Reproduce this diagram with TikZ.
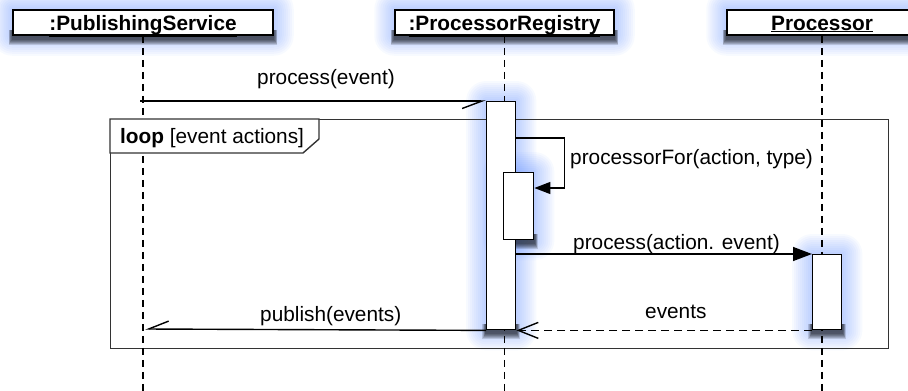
\documentclass[tikz,border=0pt]{standalone}
\usepackage{fontspec}
\setmainfont{Liberation Sans}
\usetikzlibrary{arrows.meta,backgrounds}
\definecolor{glowblue}{RGB}{80,130,255}

% soft blue halo plus a dark drop shadow under a box node
\newcommand\glowof[1]{%
  \begin{scope}[on background layer]
    \foreach \d in {2,4,...,20}{%
      \fill[glowblue, opacity=0.045, rounded corners={\d*1pt}]
        ([xshift={-\d*1pt}, yshift={-\d*1pt}]#1.south west) rectangle
        ([xshift={\d*1pt}, yshift={\d*1pt}]#1.north east);}
    \foreach \d in {1,...,6}{%
      \fill[black, opacity=0.14]
        ([xshift={-0.6*\d*1pt}, yshift={-3pt-\d*1pt}]#1.south west) rectangle
        ([xshift={0.6*\d*1pt}, yshift=6pt]#1.south east);}
  \end{scope}}

\begin{document}
\begin{tikzpicture}[x=1pt,y=-1pt,
  every node/.style={font=\fontsize{20.8}{24}\selectfont, inner sep=0pt},
  hdr/.style={draw=black, line width=1.5pt, fill=white, minimum height=25pt,
    text height=17pt, text depth=2pt, inner ysep=3pt,
    font=\fontsize{20.8}{24}\selectfont\bfseries},
  actbox/.style={draw=black, line width=1.4pt, fill=white, minimum width=29pt,
    anchor=north west},
  life/.style={line width=1.4pt, dash pattern=on 7pt off 5pt},
  msg/.style={line width=1.4pt},
  reply/.style={line width=1.4pt, dash pattern=on 8pt off 5pt},
  lbl/.style={anchor=base west},
]
\useasboundingbox (0,0) rectangle (908,391);

% combined fragment frame
\node[draw=black!80, line width=1.4pt, minimum width=778pt, minimum height=229pt,
      anchor=north west] (frm) at (110,119) {};

% object headers
\node[hdr, minimum width=260pt] (ps) at (143,22.5) {\underline{:PublishingService}};
\node[hdr, minimum width=219pt] (pr) at (504.5,22.5) {\underline{:ProcessorRegistry}};
\node[hdr, minimum width=190pt] (pc) at (822,22.5) {\underline{Processor}};

% lifelines
\coordinate (psEnd) at (143,391);
\coordinate (prEnd) at (504.5,391);
\coordinate (pcEnd) at (822,391);
\draw[life] (ps.south) -- (psEnd);
\draw[life] (pr.south) -- (prEnd);
\draw[life] (pc.south) -- (pcEnd);

% loop tab
\draw[fill=white, draw=black!80, line width=1.4pt] (frm.north west) -- ++(209,0) -- ++(0,20)
  -- ++(-16,14) -- ++(-193,0) -- cycle;
\node[lbl] (looplbl) at (120,143) {\textbf{loop} [event actions]};

% activations
\node[actbox, minimum height=228pt] (a1) at (486,101) {};
\node[actbox, minimum height=67pt, minimum width=30pt] (a2) at (503,172) {};
\node[actbox, minimum height=75pt] (a3) at (812,254) {};

\glowof{ps}\glowof{pr}\glowof{pc}
\glowof{a1}\glowof{a2}\glowof{a3}

% messages
\coordinate (m1s) at (140,101);
\draw[msg, -{Straight Barb[right,length=20pt,width=15pt]}] (m1s) -- (a1.north west);
\node[lbl] (l1) at (257,84) {process(event)};

\draw[msg, -{Triangle[length=16pt,width=12pt]}] ([yshift=-37pt]a1.north east)
  -- ++(48,0) -- ++(0,50) -- ([yshift=-16pt]a2.north east);
\node[lbl] (l2) at (570,164) {processorFor(action, type)};

\draw[msg, -{Triangle[length=19pt,width=14pt]}] ([yshift=-153pt]a1.north east) -- (a3.north west);
\node[lbl] (l3) at (573,249) {process(action. event)};

\draw[reply, -{Straight Barb[length=20pt,width=16pt]}] (a3.south west) -- (a1.south east);
\node[lbl] (l4) at (645,318) {events};

\coordinate (m5e) at (145,329);
\draw[msg, -{Straight Barb[right,length=20pt,width=16pt]}] (a1.south west) -- (m5e);
\node[lbl] (l5) at (260,321) {publish(events)};
\end{tikzpicture}
\end{document}
